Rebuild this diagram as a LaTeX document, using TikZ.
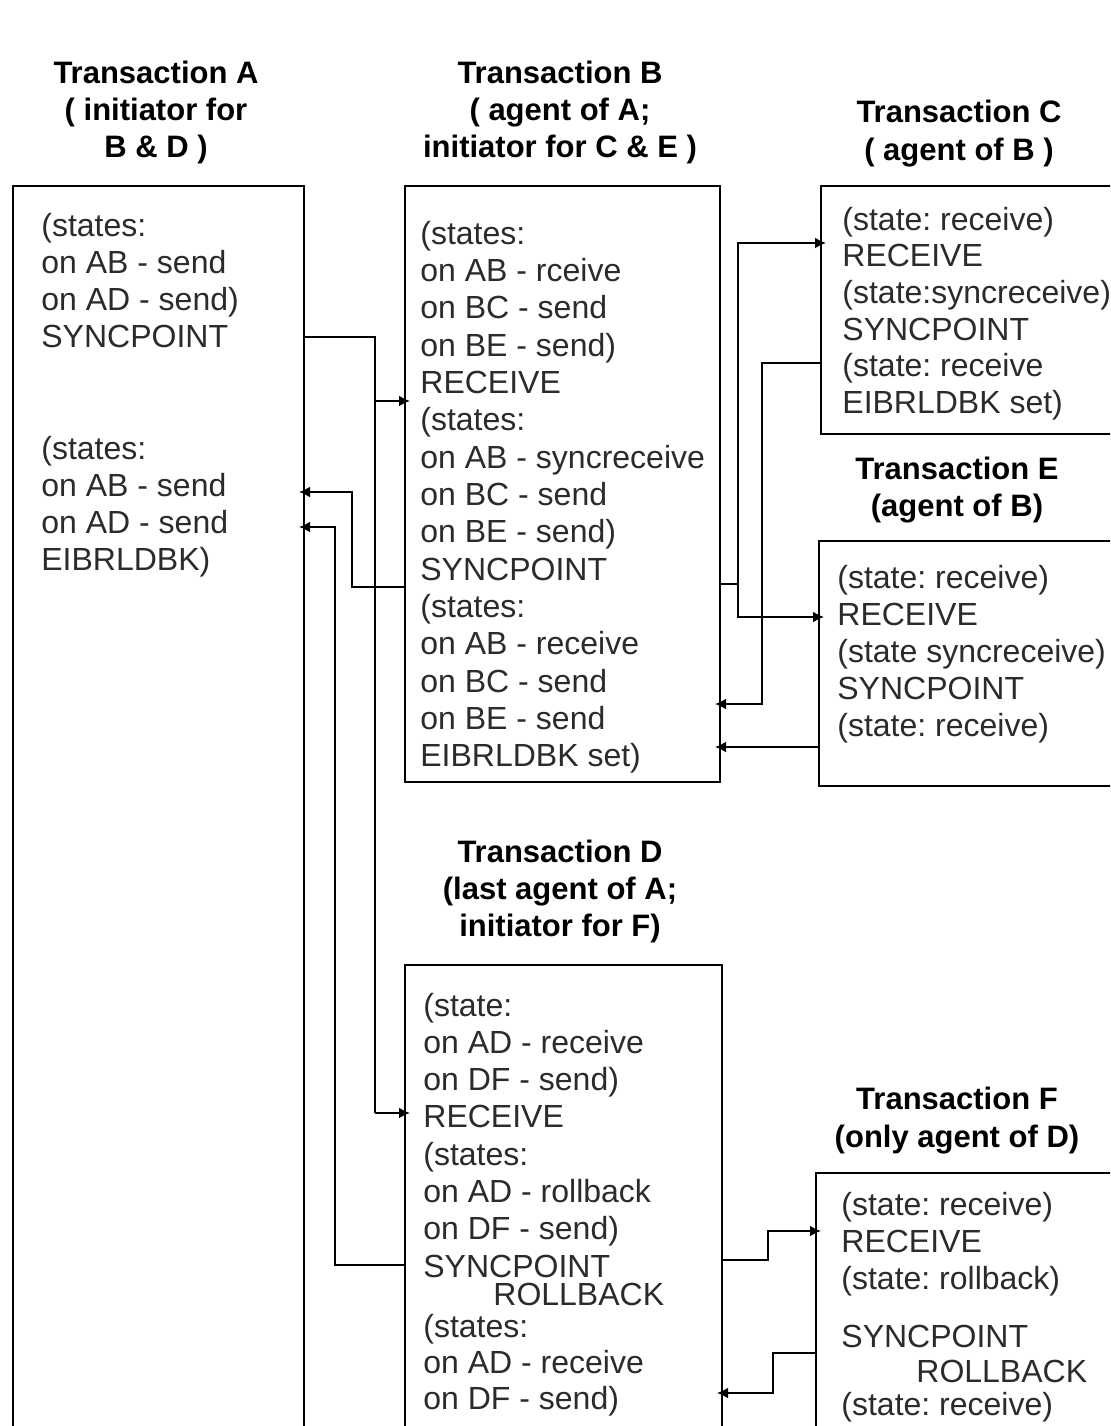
\documentclass[tikz,border=0pt]{standalone}
\usepackage{fontspec}
\setmainfont{Liberation Sans}
\frenchspacing
\usetikzlibrary{arrows.meta}
\definecolor{txtgray}{HTML}{2B2B2B}

\tikzset{
  box/.style={draw,line width=1pt,anchor=north west,inner sep=0pt},
  line/.style={anchor=base west,inner sep=0pt,text=txtgray,font=\fontsize{16}{18.5}\selectfont},
  title/.style={anchor=base,inner sep=0pt,font=\fontsize{15.5}{18.5}\selectfont\bfseries},
  link/.style={line width=1pt,shorten >=-3pt,-{Latex[length=5.5pt,width=5.5pt]}}
}

\begin{document}
\begin{tikzpicture}[x=0.5pt,y=-0.5pt]
  \clip (0,0) rectangle (1110,1426);
  \fill[white] (0,0) rectangle (1110,1426);
  % ---- boxes (A, D, F run past the bottom, C, E, F past the right edge) ----
  \node[box,minimum width=145.5pt,minimum height=665pt] (boxA) at (12,185) {};
  \node[box,minimum width=157.5pt,minimum height=298pt] (boxB) at (404,185) {};
  \node[box,minimum width=155pt,minimum height=124pt] (boxC) at (820,185) {};
  \node[box,minimum width=156pt,minimum height=122.5pt] (boxE) at (818,540) {};
  \node[box,minimum width=158.5pt,minimum height=243pt] (boxD) at (404,964) {};
  \node[box,minimum width=157.5pt,minimum height=140pt] (boxF) at (815,1172) {};
  % ---- titles ----
  \foreach \t [count=\i from 0] in {{Transaction A},{( initiator for},{B \& D )}}
    \node[title] (tA-\i) at (156,83+37*\i) {\t};
  \foreach \t [count=\i from 0] in {{Transaction B},{( agent of A;},{initiator for C \& E )}}
    \node[title] (tB-\i) at (560,83+37*\i) {\t};
  \foreach \t [count=\i from 0] in {{Transaction C},{( agent of B )}}
    \node[title] (tC-\i) at (959,122+38*\i) {\t};
  \foreach \t [count=\i from 0] in {{Transaction E},{(agent of B)}}
    \node[title] (tE-\i) at (957,479+37*\i) {\t};
  \foreach \t [count=\i from 0] in {{Transaction D},{(last agent of A;},{initiator for F)}}
    \node[title] (tD-\i) at (560,862+37*\i) {\t};
  \foreach \t [count=\i from 0] in {{Transaction F},{(only agent of D)}}
    \node[title] (tF-\i) at (957,1109+38*\i) {\t};
  % ---- box contents ----
  \foreach \t [count=\i from 0] in {{(states:},{on AB - send},{on AD - send)},{SYNCPOINT}}
    \node[line] (a-\i) at (41,236+37*\i) {\t};
  \foreach \t [count=\i from 0] in {{(states:},{on AB - send},{on AD - send},{EIBRLDBK)}}
    \node[line] (aa-\i) at (41,459+37*\i) {\t};
  \foreach \t [count=\i from 0] in {{(states:},{on AB - rceive},{on BC - send},{on BE - send)},
      {RECEIVE},{(states:},{on AB - syncreceive},{on BC - send},{on BE - send)},{SYNCPOINT},
      {(states:},{on AB - receive},{on BC - send},{on BE - send},{EIBRLDBK set)}}
    \node[line] (b-\i) at (420,244+37.35*\i) {\t};
  \foreach \t [count=\i from 0] in {{(state: receive)},{RECEIVE},{(state:syncreceive)},
      {SYNCPOINT},{(state: receive},{EIBRLDBK set)}}
    \node[line] (c-\i) at (842,230+36.7*\i) {\t};
  \foreach \t [count=\i from 0] in {{(state: receive)},{RECEIVE},{(state syncreceive)},
      {SYNCPOINT},{(state: receive)}}
    \node[line] (e-\i) at (837,588+37*\i) {\t};
  \foreach \t [count=\i from 0] in {{(state:},{on AD - receive},{on DF - send)},{RECEIVE},
      {(states:},{on AD - rollback},{on DF - send)},{SYNCPOINT}}
    \node[line] (d-\i) at (423,1016+37.3*\i) {\t};
  \node[line] (d-rb) at (493,1305) {ROLLBACK};
  \foreach \t [count=\i from 0] in {{(states:},{on AD - receive},{on DF - send)}}
    \node[line] (dd-\i) at (423,1337+36*\i) {\t};
  \foreach \t [count=\i from 0] in {{(state: receive)},{RECEIVE},{(state: rollback)}}
    \node[line] (f-\i) at (841,1215+37*\i) {\t};
  \node[line] (f-sp) at (841,1347) {SYNCPOINT};
  \node[line] (f-rb) at (916,1382) {ROLLBACK};
  \node[line] (f-st) at (841,1415) {(state: receive)};
  % ---- junction points ----
  \coordinate (aOut) at (375,337);
  \coordinate (bIn) at (375,401);
  \coordinate (dIn) at (375,1113);
  \coordinate (bBack) at (352,587);
  \coordinate (aB) at (352,492);
  \coordinate (dBack) at (335,1265);
  \coordinate (aD) at (335,527);
  \coordinate (bOut) at (738,584);
  \coordinate (cIn) at (738,243);
  \coordinate (eIn) at (738,617);
  \coordinate (cBack) at (762,363);
  \coordinate (bC) at (762,704);
  \coordinate (eBack) at (780,747);
  \coordinate (dOut) at (768,1260);
  \coordinate (fIn) at (768,1231);
  \coordinate (fBack) at (773,1353);
  \coordinate (dF) at (773,1393);
  % ---- A to B and D ----
  \draw[line width=1pt] (boxA.east |- aOut) -- (aOut) -- (dIn);
  \draw[link] (bIn) -- (boxB.west |- bIn);
  \draw[link] (dIn) -- (boxD.west |- dIn);
  % ---- back to A ----
  \draw[link] (boxB.west |- bBack) -| (aB) -- (boxA.east |- aB);
  \draw[link] (boxD.west |- dBack) -| (aD) -- (boxA.east |- aD);
  % ---- B to C and E, and back ----
  \draw[line width=1pt] (boxB.east |- bOut) -- (bOut);
  \draw[link] (bOut) |- (boxC.west |- cIn);
  \draw[link] (bOut) |- (boxE.west |- eIn);
  \draw[link] (boxC.west |- cBack) -| (bC) -- (boxB.east |- bC);
  \draw[link] (boxE.west |- eBack) -- (boxB.east |- eBack);
  % ---- D to F and back ----
  \draw[link] (boxD.east |- dOut) -| (fIn) -- (boxF.west |- fIn);
  \draw[link] (boxF.west |- fBack) -| (dF) -- (boxD.east |- dF);
\end{tikzpicture}
\end{document}
